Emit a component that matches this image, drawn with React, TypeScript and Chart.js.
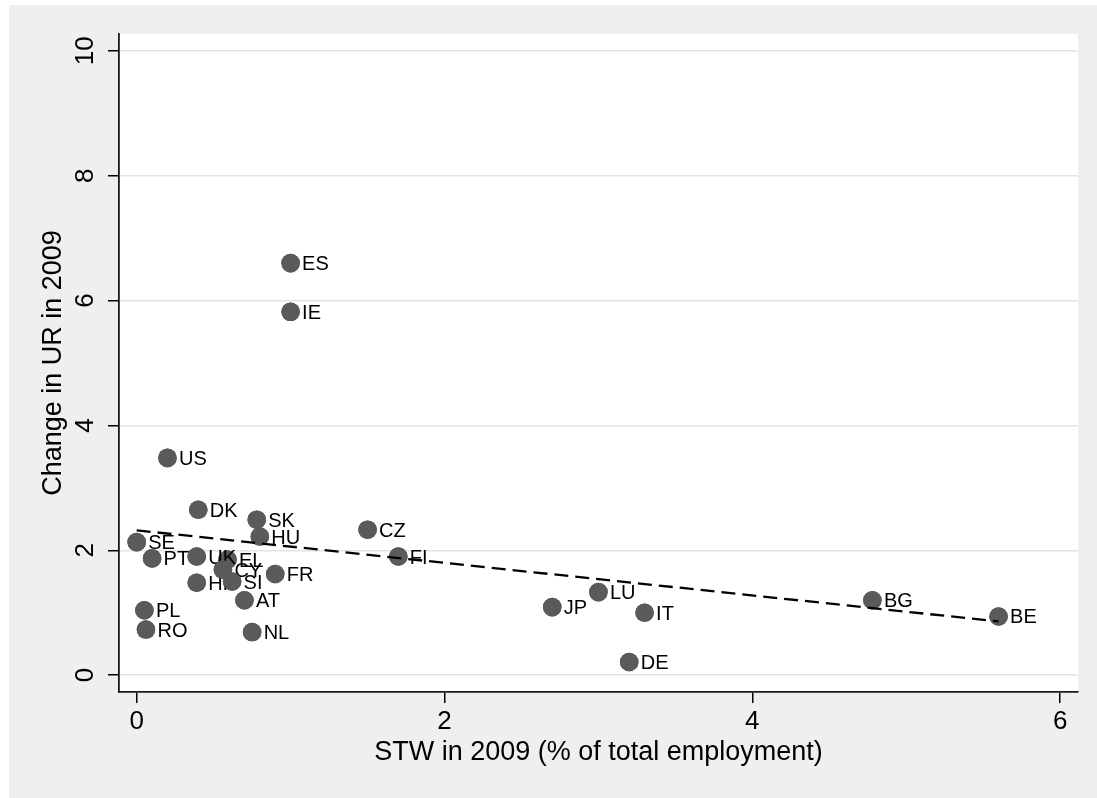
import React, { useEffect, useRef } from "react";
import { Chart, registerables } from "chart.js";

Chart.register(...registerables);

// ---- Data ----
const countries = ["US", "SE", "PT", "PL", "RO", "DK", "HR", "EL", "UK", "CY", "SI", "AT", "NL", "SK", "HU", "FR", "ES", "IE", "CZ", "FI", "JP", "LU", "DE", "IT", "BG", "BE"];
const stwValues = [0.2, 0.0, 0.1, 0.05, 0.06, 0.4, 0.39, 0.59, 0.39, 0.56, 0.62, 0.7, 0.75, 0.78, 0.8, 0.9, 1.0, 1.0, 1.5, 1.7, 2.7, 3.0, 3.2, 3.3, 4.78, 5.6];
const urChange = [3.48, 2.13, 1.87, 1.04, 0.73, 2.65, 1.48, 1.85, 1.9, 1.69, 1.5, 1.2, 0.69, 2.49, 2.22, 1.62, 6.6, 5.82, 2.33, 1.9, 1.09, 1.33, 0.21, 1.0, 1.2, 0.94];

const fitX = [0, 5.6];
const fitY = [2.32, 0.86];

const xTicks = [0, 2, 4, 6];
const yTicks = [0, 2, 4, 6, 8, 10];

const xTitle = "STW in 2009 (% of total employment)";
const yTitle = "Change in UR in 2009";

const FONT = "'Liberation Sans', Arial, sans-serif";
const MARKER = "#5a5a5a";
const MARKER_R = 9.3;

const bgPlugin = {
  id: "stataBg",
  beforeDraw(chart: any) {
    const { ctx, width, height, chartArea } = chart;
    ctx.save();
    ctx.fillStyle = "#efefef";
    ctx.fillRect(0, 0, width, height);
    ctx.fillStyle = "#ffffff";
    ctx.fillRect(chartArea.left, chartArea.top, chartArea.right - chartArea.left, chartArea.bottom - chartArea.top);
    ctx.restore();
  },
};

const labelPlugin = {
  id: "pointLabels",
  afterDatasetDraw(chart: any, args: any) {
    if (args.index !== 1) return;
    const ctx = chart.ctx;
    const meta = args.meta;
    ctx.save();
    ctx.font = `20px ${FONT}`;
    ctx.textBaseline = "alphabetic";
    ctx.textAlign = "left";
    meta.data.forEach((el: any, i: number) => {
      ctx.beginPath();
      ctx.arc(el.x, el.y, MARKER_R, 0, Math.PI * 2);
      ctx.fillStyle = MARKER;
      ctx.fill();
      ctx.fillStyle = "#000000";
      ctx.fillText(countries[i], el.x + 11.5, el.y + 7);
    });
    ctx.restore();
  },
};

export default function App() {
  const ref = useRef<HTMLCanvasElement | null>(null);

  useEffect(() => {
    if (!ref.current) return;
    const chart = new Chart(ref.current, {
      type: "scatter",
      data: {
        datasets: [
          {
            label: "fit",
            data: fitX.map((x, i) => ({ x, y: fitY[i] })),
            showLine: true,
            borderColor: "#000000",
            borderWidth: 2.3,
            borderDash: [14, 7],
            pointRadius: 0,
            fill: false,
          },
          {
            label: "countries",
            data: stwValues.map((x, i) => ({ x, y: urChange[i] })),
            backgroundColor: MARKER,
            borderColor: MARKER,
            borderWidth: 0,
            pointRadius: MARKER_R,
            showLine: false,
          },
        ],
      },
      options: {
        responsive: false,
        animation: false,
        events: [],
        layout: { padding: { left: 10, top: 29, right: 19, bottom: 26 } },
        plugins: { legend: { display: false }, tooltip: { enabled: false } },
        scales: {
          x: {
            type: "linear",
            min: -0.115,
            max: 6.116,
            afterBuildTicks: (s: any) => {
              s.ticks = xTicks.map((v) => ({ value: v }));
            },
            afterFit: (s: any) => {
              s.height = 80;
            },
            grid: { drawOnChartArea: false, color: "#000", tickColor: "#000", tickLength: 11, lineWidth: 1.5 },
            border: { display: true, color: "#1a1a1a", width: 1.8 },
            ticks: { font: { family: FONT, size: 26 }, color: "#000", padding: 3, minRotation: 0, maxRotation: 0, autoSkip: false },
            title: { display: true, text: xTitle, color: "#000", font: { family: FONT, size: 27 }, padding: { top: 0, bottom: 3 } },
          },
          y: {
            type: "linear",
            min: -0.27,
            max: 10.27,
            afterBuildTicks: (s: any) => {
              s.ticks = yTicks.map((v) => ({ value: v }));
            },
            afterFit: (s: any) => {
              s.width = 100;
            },
            grid: { drawOnChartArea: true, color: "#e4e4e4", tickColor: "#000", tickLength: 11, lineWidth: 1.5 },
            border: { display: true, color: "#1a1a1a", width: 1.8 },
            ticks: { font: { family: FONT, size: 26 }, color: "#000", padding: 8, minRotation: 90, maxRotation: 90, crossAlign: "center", autoSkip: false },
            title: { display: true, text: yTitle, color: "#000", font: { family: FONT, size: 27 }, padding: { top: 18, bottom: 0 } },
          },
        },
      },
      plugins: [bgPlugin, labelPlugin],
    } as any);
    return () => chart.destroy();
  }, []);

  return (
    <div style={{ position: "fixed", left: 9, top: 5, right: 0, bottom: 0, background: "#efefef", overflow: "hidden" }}>
      <canvas ref={ref} width={1088} height={793} style={{ display: "block" }} />
    </div>
  );
}
